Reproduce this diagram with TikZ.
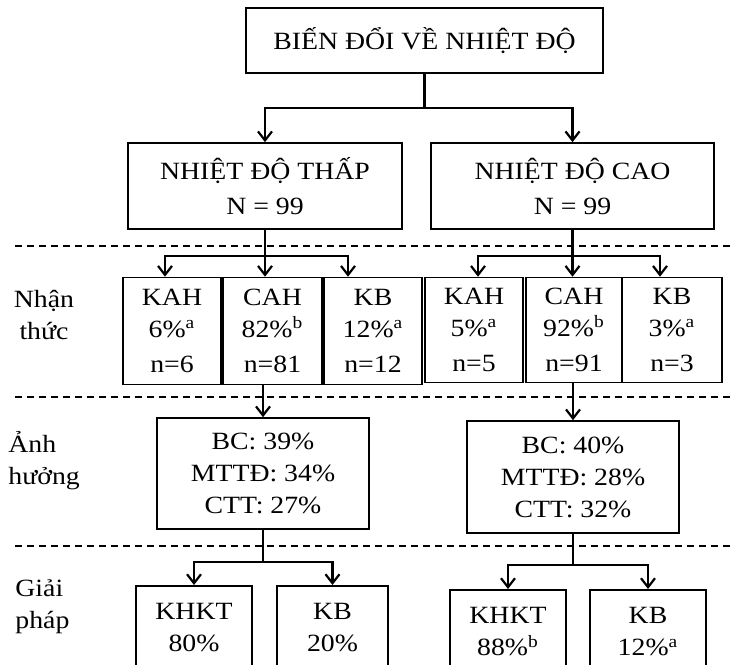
\documentclass[tikz,border=0pt]{standalone}
\usepackage{fontspec}
\setmainfont{Liberation Serif}[FakeStretch=1.12]
\usetikzlibrary{arrows.meta}

\begin{document}
\begin{tikzpicture}[x=0.5pt,y=-0.5pt,
    box/.style={draw,line width=0.8pt,inner sep=0pt,align=center,font=\fontsize{12.4}{16}\selectfont},
    arr/.style={line width=1.1pt,-{Straight Barb[length=4.5pt,width=7pt]}},
    conn/.style={line width=1.1pt},
    sep/.style={line width=0.75pt,dash pattern=on 3.5pt off 2.5pt},
    lab/.style={inner sep=0pt,font=\fontsize{12.4}{16}\selectfont}]
        \useasboundingbox (0,0) rectangle (731,664);
        \clip (0,0) rectangle (731,664);
        % separators
        \draw[sep] (15,246) -- (731,246);
        \draw[sep] (15,397) -- (731,397);
        \draw[sep] (15,546) -- (731,546);
        % side labels
        \node[lab,align=center] (nhan) at (44,315) {Nhận\\thức};
        \node[lab,align=left,anchor=west] (anh) at (8,461) {Ảnh\\hưởng};
        \node[lab,align=left,anchor=west] (giai) at (15,607) {Giải\\pháp};
        % top levels
        \node[box,minimum width=178.5pt,minimum height=32.5pt] (top) at (424.5,40.5) {BIẾN ĐỔI VỀ NHIỆT ĐỘ};
        \node[box,minimum width=137pt,minimum height=43pt] (lowT) at (265,186) {NHIỆT ĐỘ THẤP\\[1.5pt]N = 99};
        \node[box,minimum width=141.5pt,minimum height=43pt] (highT) at (572.5,186) {NHIỆT ĐỘ CAO\\[1.5pt]N = 99};
        % awareness
        \node[box,minimum width=49pt,minimum height=53.5pt] (kahL) at (172,331) {KAH\\6\%\textsuperscript{a}\\[1.5pt]n=6};
        \node[box,minimum width=49.5pt,minimum height=53.5pt] (cahL) at (272.5,331) {CAH\\82\%\textsuperscript{b}\\[1.5pt]n=81};
        \node[box,minimum width=49pt,minimum height=53.5pt] (kbL) at (373,331) {KB\\12\%\textsuperscript{a}\\[1.5pt]n=12};
        \node[box,minimum width=49pt,minimum height=52.5pt] (kahR) at (474,330) {KAH\\5\%\textsuperscript{a}\\[1.5pt]n=5};
        \node[box,minimum width=48pt,minimum height=52.5pt] (cahR) at (574,330) {CAH\\92\%\textsuperscript{b}\\[1.5pt]n=91};
        \node[box,minimum width=50pt,minimum height=52.5pt] (kbR) at (672,330) {KB\\3\%\textsuperscript{a}\\[1.5pt]n=3};
        % effects
        \node[box,minimum width=106pt,minimum height=55.5pt] (effL) at (263,473.5) {BC: 39\%\\MTTĐ: 34\%\\CTT: 27\%};
        \node[box,minimum width=106pt,minimum height=56pt] (effR) at (573,477) {BC: 40\%\\MTTĐ: 28\%\\CTT: 32\%};
        % solutions
        \node[box,anchor=north,minimum width=58pt,minimum height=42pt] (khktL) at (194,585) {KHKT\\80\%};
        \node[box,anchor=north,minimum width=55.5pt,minimum height=42pt] (kbsL) at (332.5,585) {KB\\20\%};
        \node[box,anchor=north,minimum width=58pt,minimum height=42pt] (khktR) at (508,589) {KHKT\\88\%\textsuperscript{b}};
        \node[box,anchor=north,minimum width=58pt,minimum height=42pt] (kbsR) at (648,589) {KB\\12\%\textsuperscript{a}};
        % connectors
        \coordinate (jTop) at (424.5,108);
        \draw[conn] (top.south) -- (jTop);
        \draw[arr] (jTop) -| (lowT.north);
        \draw[arr] (jTop) -| (highT.north);
        \path (lowT.south) ++(0,26) coordinate (jL);
        \draw[conn] (lowT.south) -- (jL);
        \draw[arr] (jL) -| ([xshift=-3.5pt]kahL.north);
        \draw[arr] (jL) -- (jL |- cahL.north);
        \draw[arr] (jL) -| ([xshift=-12.5pt]kbL.north);
        \path (highT.south) ++(0,26) coordinate (jR);
        \draw[conn] (highT.south) -- (jR);
        \draw[arr] (jR) -| ([xshift=2pt]kahR.north);
        \draw[arr] (jR) -- (jR |- cahR.north);
        \draw[arr] (jR) -| ([xshift=-6pt]kbR.north);
        \draw[arr] (effL.north |- cahL.south) -- (effL.north);
        \draw[arr] (effR.north |- cahR.south) -- (effR.north);
        \path (effL.south) ++(0,32) coordinate (jEL);
        \draw[conn] (effL.south) -- (jEL);
        \draw[arr] (jEL) -| (khktL.north);
        \draw[arr] (jEL) -| (kbsL.north);
        \path (effR.south) ++(0,31) coordinate (jER);
        \draw[conn] (effR.south) -- (jER);
        \draw[arr] (jER) -| (khktR.north);
        \draw[arr] (jER) -| (kbsR.north);
\end{tikzpicture}
\end{document}
